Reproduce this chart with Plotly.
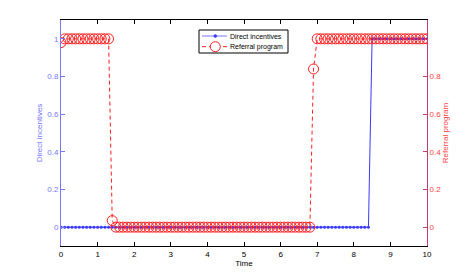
import plotly.graph_objects as go

# Time axis (step 0.1 from 0 to 10)
time = [round(i * 0.1, 1) for i in range(101)]

direct_incentives = [
    0, 0, 0, 0, 0, 0, 0, 0, 0, 0,
    0, 0, 0, 0, 0, 0, 0, 0, 0, 0,
    0, 0, 0, 0, 0, 0, 0, 0, 0, 0,
    0, 0, 0, 0, 0, 0, 0, 0, 0, 0,
    0, 0, 0, 0, 0, 0, 0, 0, 0, 0,
    0, 0, 0, 0, 0, 0, 0, 0, 0, 0,
    0, 0, 0, 0, 0, 0, 0, 0, 0, 0,
    0, 0, 0, 0, 0, 0, 0, 0, 0, 0,
    0, 0, 0, 0, 0, 1, 1, 1, 1, 1,
    1, 1, 1, 1, 1, 1, 1, 1, 1, 1,
    1,
]

referral_program = [
    0.98, 1, 1, 1, 1, 1, 1, 1, 1, 1,
    1, 1, 1, 1, 0.035, 0, 0, 0, 0, 0,
    0, 0, 0, 0, 0, 0, 0, 0, 0, 0,
    0, 0, 0, 0, 0, 0, 0, 0, 0, 0,
    0, 0, 0, 0, 0, 0, 0, 0, 0, 0,
    0, 0, 0, 0, 0, 0, 0, 0, 0, 0,
    0, 0, 0, 0, 0, 0, 0, 0, 0, 0.84,
    1, 1, 1, 1, 1, 1, 1, 1, 1, 1,
    1, 1, 1, 1, 1, 1, 1, 1, 1, 1,
    1, 1, 1, 1, 1, 1, 1, 1, 1, 1,
    1,
]

series_names = ["Direct incentives", "Referral program"]
x_ticks = [0, 1, 2, 3, 4, 5, 6, 7, 8, 9, 10]
left_ticks = [0, 0.2, 0.4, 0.6, 0.8, 1]
right_ticks = [0, 0.2, 0.4, 0.6, 0.8]

FONT = "Liberation Sans, Arial, Helvetica, sans-serif"
BLUE = "#3a3aff"
BLUE_AXIS = "#7878ff"
RED = "#ff2020"
RED_AXIS = "#c03c78"
RED_TEXT = "#ff4040"
DASH = "4px,3px"

# plot area in pixels
W, H = 471, 277
ML, MR, MT, MB = 61, 44, 20, 31
PW, PH = W - ML - MR, H - MT - MB


def px(xp):
    return (xp - ML) / PW


def py(yp):
    return (H - MB - yp) / PH


fig = go.Figure()
fig.add_trace(go.Scatter(
    x=time, y=direct_incentives, name=series_names[0],
    mode="lines+markers",
    line=dict(color=BLUE, width=1),
    marker=dict(color=BLUE, size=3, symbol="circle"),
    yaxis="y", showlegend=False,
))
fig.add_trace(go.Scatter(
    x=time, y=referral_program, name=series_names[1],
    mode="lines+markers",
    line=dict(color=RED, width=1, dash=DASH),
    marker=dict(color=RED, size=10, symbol="circle-open",
                line=dict(color=RED, width=1)),
    yaxis="y2", showlegend=False,
))

# manual legend (compact, MATLAB style)
shapes = [
    dict(type="rect", xref="paper", yref="paper",
         x0=px(199), x1=px(288), y0=py(53), y1=py(30),
         line=dict(color="black", width=1), fillcolor="white", layer="above"),
    dict(type="line", xref="paper", yref="paper",
         x0=px(202), x1=px(227), y0=py(36), y1=py(36),
         line=dict(color=BLUE_AXIS, width=1), layer="above"),
    dict(type="circle", xref="paper", yref="paper",
         x0=px(213.8), x1=px(216.8), y0=py(37.5), y1=py(34.5),
         line=dict(color=BLUE, width=0.5), fillcolor=BLUE, layer="above"),
    dict(type="line", xref="paper", yref="paper",
         x0=px(202), x1=px(227), y0=py(46.7), y1=py(46.7),
         line=dict(color=RED, width=1, dash=DASH), layer="above"),
    dict(type="circle", xref="paper", yref="paper",
         x0=px(210.3), x1=px(220.3), y0=py(51.7), y1=py(41.7),
         line=dict(color=RED, width=1), fillcolor="white", layer="above"),
]
annotations = [
    dict(xref="paper", yref="paper", x=px(228), y=py(36), xanchor="left", yanchor="middle",
         text=series_names[0], showarrow=False, font=dict(size=7, color="black")),
    dict(xref="paper", yref="paper", x=px(228), y=py(46.7), xanchor="left", yanchor="middle",
         text=series_names[1], showarrow=False, font=dict(size=7, color="black")),
]

fig.update_layout(
    width=W, height=H,
    margin=dict(l=ML, r=MR, t=MT, b=MB),
    paper_bgcolor="white", plot_bgcolor="white",
    font=dict(family=FONT, size=8, color="black"),
    showlegend=False,
    shapes=shapes,
    annotations=annotations,
    xaxis=dict(
        range=[0, 10], tickvals=x_ticks, ticks="inside", ticklen=4,
        showline=True, linecolor="black", linewidth=1, mirror="ticks",
        showgrid=False, zeroline=False, tickcolor="black",
        tickfont=dict(size=8, color="black"),
        title=dict(text="Time", font=dict(size=8), standoff=1),
    ),
    yaxis=dict(
        range=[-0.1, 1.1], tickvals=left_ticks, ticktext=["0", "0.2", "0.4", "0.6", "0.8", "1"],
        ticks="inside", ticklen=4, tickcolor=BLUE_AXIS,
        showline=True, linecolor=BLUE_AXIS, linewidth=1,
        showgrid=False, zeroline=False,
        tickfont=dict(size=8, color=BLUE_AXIS),
        title=dict(text="Direct incentives", font=dict(size=8, color=BLUE_AXIS), standoff=3),
    ),
    yaxis2=dict(
        range=[-0.1, 1.1], tickvals=right_ticks, ticktext=["0", "0.2", "0.4", "0.6", "0.8"],
        overlaying="y", side="right",
        ticks="inside", ticklen=4, tickcolor=RED_AXIS,
        showline=True, linecolor=RED_AXIS, linewidth=1,
        showgrid=False, zeroline=False,
        tickfont=dict(size=8, color=RED_TEXT),
        title=dict(text="Referral program", font=dict(size=8, color=RED_TEXT), standoff=1),
    ),
)

fig.write_html("out.html", config={"displayModeBar": False},
               post_script="document.body.style.margin='0';document.body.style.padding='0';")
